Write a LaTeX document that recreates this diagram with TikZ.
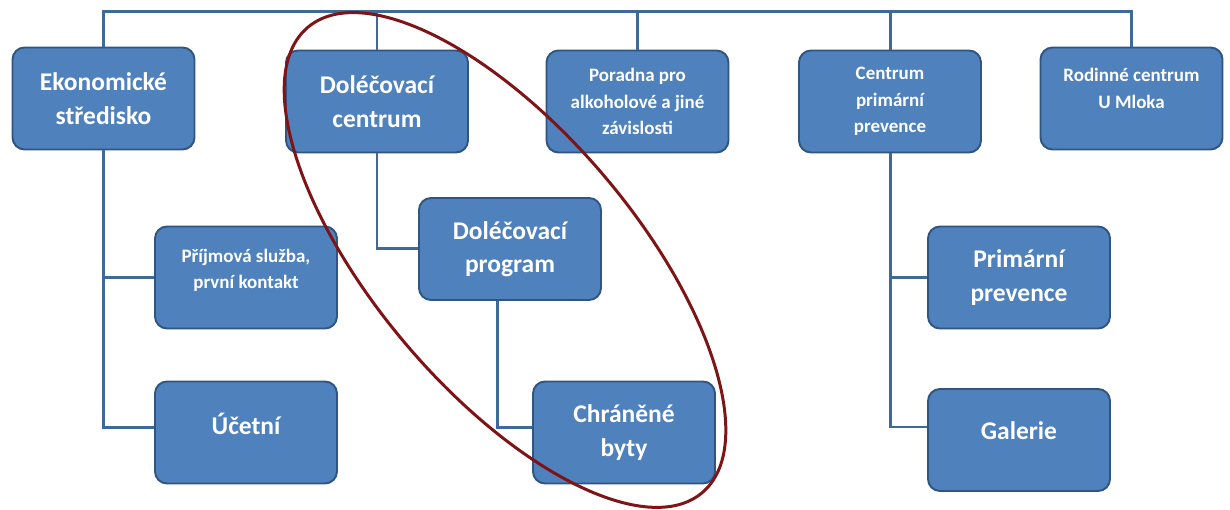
\documentclass[tikz,border=0pt]{standalone}
\usepackage{fontspec}
\setmainfont{Carlito}
\usepackage{tikz}
\usetikzlibrary{calc}

\definecolor{boxblue}{HTML}{4F81BD}
\definecolor{boxedge}{HTML}{2F5580}
\definecolor{linkblue}{HTML}{3F6A98}
\definecolor{loopred}{HTML}{7E1416}

\begin{document}
\begin{tikzpicture}[
  box/.style={draw=boxedge, line width=1.1pt, fill=boxblue, rounded corners=0.24cm,
    minimum width=3.64cm, minimum height=2.04cm, align=center, text=white,
    font=\bfseries\fontsize{14.5}{19}\selectfont},
  small/.style={font=\bfseries\fontsize{10.8}{15}\selectfont},
  link/.style={draw=linkblue, line width=1.7pt}
]
\useasboundingbox (0,0) rectangle (24.6,10.2);

\node[box] (eko) at (2.07,8.23) {Ekonomické\\středisko};
\node[box] (dc) at (7.54,8.17) {Doléčovací\\centrum};
\node[box, small] (por) at (12.75,8.17) {Poradna pro\\alkoholové a jiné\\závislosti};
\node[box, small] (cpp) at (17.8,8.17) {Centrum\\primární\\prevence};
\node[box, small] (rod) at (22.63,8.23) {Rodinné centrum\\U Mloka\\[-3.6pt]};

\node[box, small] (pri) at (4.92,4.65) {Příjmová služba,\\první kontakt\\[-5.3pt]};
\node[box] (uce) at (4.92,1.55) {Účetní\\[-8.8pt]};
\node[box] (dp) at (10.2,5.22) {Doléčovací\\program};
\node[box] (cb) at (12.48,1.55) {Chráněné\\byty};
\node[box] (pp) at (20.38,4.65) {Primární\\prevence};
\node[box] (gal) at (20.38,1.40) {Galerie\\[-8.8pt]};

\coordinate (top) at (0,9.96);
\draw[link] (eko.north) -- (eko.north |- top) -- (rod.north |- top) -- (rod.north);
\draw[link] (dc.north) -- (dc.north |- top);
\draw[link] (por.north) -- (por.north |- top);
\draw[link] (cpp.north) -- (cpp.north |- top);

\draw[link] (eko.south) |- ([yshift=0.1cm]uce.west);
\draw[link] (eko.south |- pri.west) -- (pri.west);
\draw[link] (dc.south) |- (dp.west);
\draw[link] ([xshift=-0.26cm]dp.south) |- ([yshift=0.1cm]cb.west);
\draw[link] (cpp.south) |- ([yshift=0.26cm]gal.west);
\draw[link] (cpp.south |- pp.west) -- (pp.west);

\draw[loopred, line width=1.7pt, rotate around={-49.7:(10.1,5.0)}] (10.1,5.0) ellipse (6.1cm and 2.6cm);
\end{tikzpicture}
\end{document}
